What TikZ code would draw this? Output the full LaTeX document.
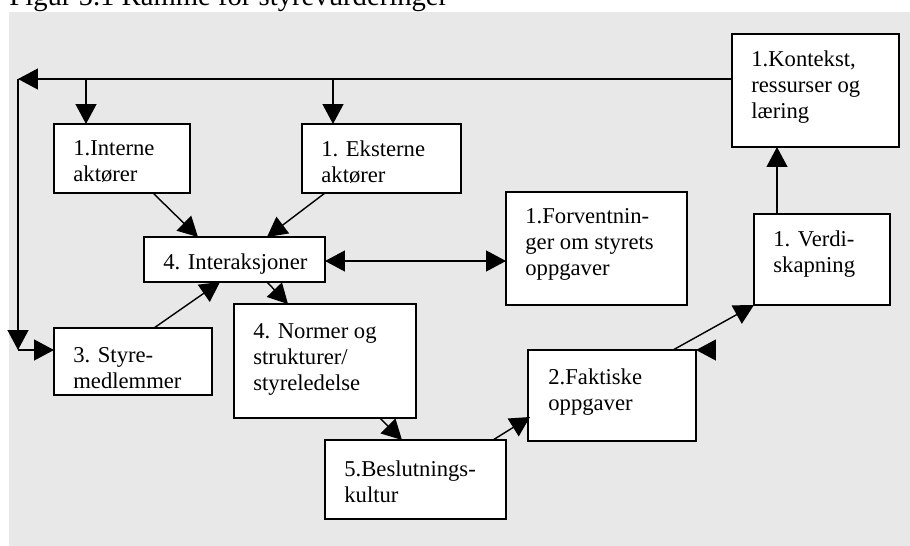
\documentclass[tikz,border=0pt]{standalone}
\usepackage{fontspec}
\setmainfont{Liberation Serif}
\usetikzlibrary{arrows.meta,calc}

\definecolor{bakgrunn}{HTML}{E8E8E8}

\tikzset{
    boks/.style 2 args={draw, fill=white, anchor=north west, inner sep=0pt, outer sep=0pt,
        line width=0.75pt, minimum width=#1*0.53pt, minimum height=#2*0.53pt},
    tekst/.style={anchor=north west, inner sep=0pt, align=left,
        font=\fontsize{12pt}{13.8pt}\selectfont},
    pil/.style={line width=0.75pt, -{Triangle[length=10.5pt,width=11pt]}},
    dobbelpil/.style={line width=0.75pt, {Triangle[length=10.5pt,width=11pt]}-{Triangle[length=10.5pt,width=11pt]}},
}

\begin{document}
\begin{tikzpicture}[x=0.53pt,y=-0.53pt]
    \useasboundingbox (0,0) rectangle (910,546);
    \fill[bakgrunn] (9,12) rectangle (910,546);
    \node[anchor=base west, inner sep=0pt, font=\fontsize{15.2pt}{18pt}\selectfont] (tittel) at (9,5) {Figur 5.1 Ramme for styrevurderinger};

    % bokser
    \node[boks={167}{113}] (kontekst) at (732,34) {};
    \node[boks={136}{69}] (interne) at (54,124) {};
    \node[boks={159}{69}] (eksterne) at (302,124) {};
    \node[boks={181}{45}] (interaksjoner) at (144,237) {};
    \node[boks={181}{113}] (forventninger) at (506,192) {};
    \node[boks={136}{91}] (verdi) at (754,214) {};
    \node[boks={158}{67}] (styre) at (54,328) {};
    \node[boks={182}{114}] (normer) at (234,304) {};
    \node[boks={181}{79}] (beslutning) at (325,440) {};
    \node[boks={168}{91}] (faktiske) at (528,350) {};

    \node[tekst] (tkontekst) at ($(kontekst.north west)+(19,16)$) {1.Kontekst,\\ressurser og\\læring};
    \node[tekst] (tinterne) at ($(interne.north west)+(19,16)$) {1.Interne\\aktører};
    \node[tekst] (teksterne) at ($(eksterne.north west)+(19,16)$) {1. Eksterne\\aktører};
    \node[tekst] (tinteraksjoner) at ($(interaksjoner.north west)+(19,16)$) {4. Interaksjoner};
    \node[tekst] (tforventninger) at ($(forventninger.north west)+(19,16)$) {1.Forventnin-\\ger om styrets\\oppgaver};
    \node[tekst] (tverdi) at ($(verdi.north west)+(19,16)$) {1. Verdi-\\skapning};
    \node[tekst] (tstyre) at ($(styre.north west)+(19,19)$) {3. Styre-\\medlemmer};
    \node[tekst] (tnormer) at ($(normer.north west)+(19,19)$) {4. Normer og\\strukturer/\\styreledelse};
    \node[tekst] (tbeslutning) at ($(beslutning.north west)+(19,20)$) {5.Beslutnings-\\kultur};
    \node[tekst] (tfaktiske) at ($(faktiske.north west)+(20,18)$) {2.Faktiske\\oppgaver};

    % tilbakekobling
    \coordinate (hjorne1) at (18,79);
    \coordinate (hjorne2) at (18,350);
    \coordinate (gren1) at (86,79);
    \coordinate (gren2) at (333,79);
    \draw[pil] (hjorne1 -| kontekst.west) -- (hjorne1);
    \draw[pil] (hjorne1) -- (hjorne2);
    \draw[pil] (hjorne2) -- (hjorne2 -| styre.west);
    \draw[pil] (gren1) -- (gren1 |- interne.north);
    \draw[pil] (gren2) -- (gren2 |- eksterne.north);

    \coordinate (dobbel) at ($(interaksjoner.east)+(0,1.5)$);
    \draw[pil] ($(interne.south west)+(99,0)$) -- ($(interaksjoner.north west)+(54,0)$);
    \draw[pil] ($(eksterne.south west)+(23,0)$) -- ($(interaksjoner.north west)+(123,0)$);
    \draw[dobbelpil] (dobbel) -- (dobbel -| forventninger.west);
    \draw[pil] ($(styre.north west)+(100,0)$) -- ($(interaksjoner.south west)+(76,0)$);
    \draw[pil] ($(interaksjoner.south west)+(123,0)$) -- ($(normer.north west)+(54,0)$);
    \draw[pil] ($(normer.south west)+(146,0)$) -- ($(beslutning.north west)+(77,0)$);
    \draw[pil] ($(beslutning.north west)+(168,0)$) -- ($(faktiske.north west)+(2,67)$);
    \draw[pil] ($(faktiske.north west)+(145,0)$) -- (verdi.south west);
    \draw[pil] ($(verdi.north west)+(23,0)$) -- ($(kontekst.south west)+(45,0)$);
    \draw[pil] ($(faktiske.north east)+(19,0)$) -- (faktiske.north east);
\end{tikzpicture}
\end{document}
